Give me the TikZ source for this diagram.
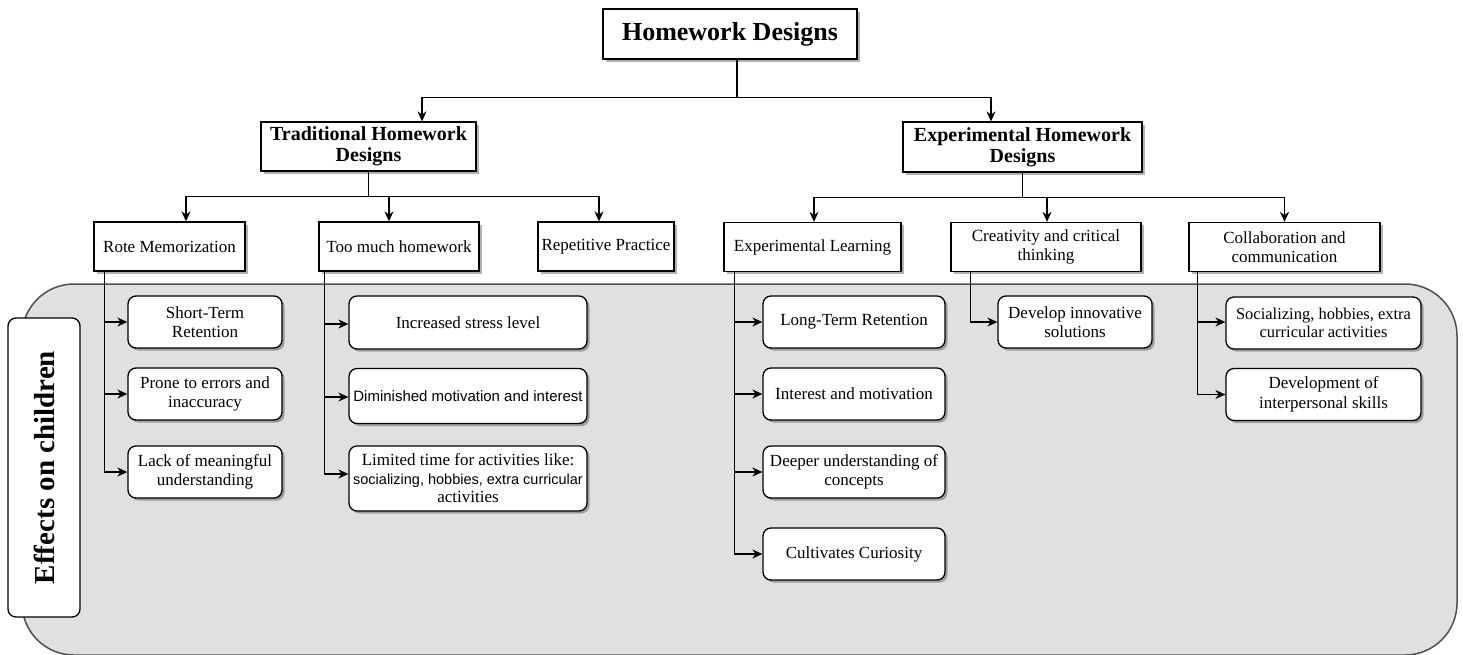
\documentclass[tikz,border=0pt]{standalone}
\usepackage{fontspec}
\setmainfont{Liberation Serif}
\newfontfamily\sansf{Liberation Sans}
\usetikzlibrary{arrows.meta,shadows}
\definecolor{bggray}{RGB}{224,224,224}
\definecolor{bgline}{RGB}{80,80,80}
\tikzset{
  box/.style={draw=black, line width=1.3pt, fill=white, inner sep=0pt, align=center,
    font=\fontsize{17}{19.5}\selectfont,
    drop shadow={shadow xshift=2.5pt, shadow yshift=-2.5pt, fill=black, opacity=0.3}},
  rbox/.style={box, rounded corners=8pt},
  title/.style={font=\bfseries\fontsize{20}{21}\selectfont},
  conn/.style={line width=1.3pt, draw=black},
  arr/.style={conn, -{Stealth[length=10pt,width=9pt]}},
  lvthree/.style={box, minimum height=49pt},
  lvfour/.style={rbox, minimum height=52pt},
}
\begin{document}
\begin{tikzpicture}[x=1pt,y=-1pt]
\useasboundingbox (0,0) rectangle (1463,654);
% background region
\draw[draw=bgline, line width=1.5pt, fill=bggray, rounded corners=52pt] (22,284) rectangle (1457,655);

% level 1 and 2
\node[box, minimum width=254pt, minimum height=50pt, font=\bfseries\fontsize{26}{28}\selectfont] (hd) at (730,34) {Homework Designs};
\node[box, title, minimum width=215pt, minimum height=49pt] (trad) at (368.5,146.5) {Traditional Homework\\Designs};
\node[box, title, minimum width=239pt, minimum height=50pt] (exp) at (1022.5,147) {Experimental Homework\\Designs};

% level 3
\node[lvthree, minimum width=151pt] (rote) at (169.5,246.5) {Rote Memorization};
\node[lvthree, minimum width=160pt] (toomuch) at (399,246.5) {Too much homework};
\node[lvthree, minimum width=136pt] (rep) at (606,246.5) {Repetitive Practice};
\node[lvthree, minimum width=177pt] (expl) at (812.5,247) {Experimental Learning};
\node[lvthree, minimum width=190pt] (creat) at (1046,247) {Creativity and critical\\thinking};
\node[lvthree, minimum width=191pt] (collab) at (1284.5,247) {Collaboration and\\communication};

% effects label
\node[draw=black, line width=1.3pt, fill=white, rounded corners=8pt, rotate=90, inner sep=0pt,
  minimum width=299pt, minimum height=72pt, font=\bfseries\fontsize{29}{31}\selectfont] (eff) at (44,467.5) {Effects on children};

% level 4 - traditional
\node[lvfour, minimum width=154pt] (st) at (205,322) {Short-Term\\Retention};
\node[lvfour, minimum width=154pt] (pe) at (205,394) {Prone to errors and\\inaccuracy};
\node[lvfour, minimum width=154pt] (lm) at (205,472) {Lack of meaningful\\understanding};
\node[lvfour, minimum width=238pt, minimum height=53pt] (isl) at (468,322.5) {Increased stress level};
\node[lvfour, minimum width=238pt, minimum height=55pt, font=\sansf\fontsize{15}{18}\selectfont] (dmi) at (468,396) {Diminished motivation and interest};
\node[lvfour, minimum width=238pt, minimum height=65pt, font=\fontsize{17}{18.5}\selectfont] (ltf) at (468,478.5) {Limited time for activities like:\\ \sansf\fontsize{14.5}{18.5}\selectfont socializing, hobbies, extra curricular\\activities};

% level 4 - experimental
\node[lvfour, minimum width=182pt] (ltr) at (854,322) {Long-Term Retention};
\node[lvfour, minimum width=182pt] (im) at (854,394) {Interest and motivation};
\node[lvfour, minimum width=182pt] (du) at (854,472) {Deeper understanding of\\concepts};
\node[lvfour, minimum width=182pt] (cc) at (854,554) {Cultivates Curiosity};
\node[lvfour, minimum width=154pt] (dis) at (1075,322) {Develop innovative\\solutions};
\node[lvfour, minimum width=195pt, font=\fontsize{16.5}{18}\selectfont] (shx) at (1323.5,323) {Socializing, hobbies, extra\\curricular activities};
\node[lvfour, minimum width=195pt] (dip) at (1323.5,394.5) {Development of\\interpersonal skills};

% connectors: level 1 -> 2
\draw[conn] ([xshift=7pt]hd.south) -- ++(0,38) coordinate (b0);
\draw[arr] (b0) -| ([xshift=53.5pt]trad.north);
\draw[arr] (b0) -| ([xshift=-31.5pt]exp.north);

% traditional -> level 3
\draw[conn] (trad.south) -- ++(0,25) coordinate (b1);
\draw[arr] (b1) -| ([xshift=16.5pt]rote.north);
\draw[arr] (b1) -| ([xshift=-10pt]toomuch.north);
\draw[arr] (b1) -| ([xshift=-7pt]rep.north);

% experimental -> level 3
\draw[conn] (exp.south) -- ++(0,25) coordinate (b2);
\draw[arr] (b2) -| ([xshift=1.5pt]expl.north);
\draw[arr] (b2) -| ([xshift=1pt]creat.north);
\draw[arr] (b2) -| (collab.north);

% level 3 -> level 4
\draw[arr] ([xshift=11pt]rote.south west) |- (st.west);
\draw[arr] ([xshift=11pt]rote.south west) |- (pe.west);
\draw[arr] ([xshift=11pt]rote.south west) |- (lm.west);
\draw[arr] ([xshift=6pt]toomuch.south west) |- ([yshift=-1.5pt]isl.west);
\draw[arr] ([xshift=6pt]toomuch.south west) |- ([yshift=-1pt]dmi.west);
\draw[arr] ([xshift=6pt]toomuch.south west) |- ([yshift=4.5pt]ltf.west);
\draw[arr] ([xshift=11pt]expl.south west) |- (ltr.west);
\draw[arr] ([xshift=11pt]expl.south west) |- (im.west);
\draw[arr] ([xshift=11pt]expl.south west) |- (du.west);
\draw[arr] ([xshift=11pt]expl.south west) |- (cc.west);
\draw[arr] ([xshift=20pt]creat.south west) |- (dis.west);
\draw[arr] ([xshift=9pt]collab.south west) |- ([yshift=1pt]shx.west);
\draw[arr] ([xshift=9pt]collab.south west) |- (dip.west);
\end{tikzpicture}
\end{document}
